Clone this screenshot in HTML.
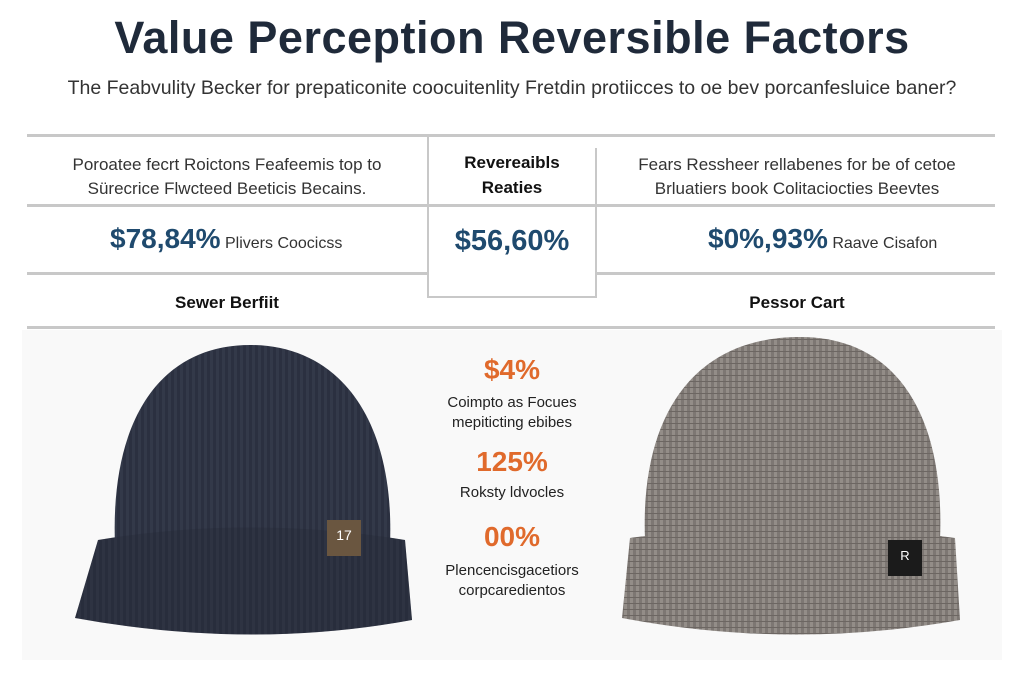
<!DOCTYPE html>
<html><head><meta charset="utf-8"><style>
body{margin:0;width:1024px;height:683px;background:#fff;font-family:"Liberation Sans",sans-serif;position:relative;overflow:hidden}
.t{position:absolute;white-space:nowrap}
.l{position:absolute;background:#c8c8c8}
</style></head><body>
<svg width="1024" height="683" style="position:absolute;left:0;top:0">
<defs>
<pattern id="kn" width="6" height="6" patternUnits="userSpaceOnUse"><rect width="6" height="6" fill="#2b3040"/><rect width="3" height="6" fill="#333949"/></pattern>
<pattern id="kg" width="6" height="6" patternUnits="userSpaceOnUse"><rect width="6" height="6" fill="#7d7773"/><rect width="3" height="6" fill="#938d88"/><rect y="3" width="6" height="1" fill="#6c6662"/></pattern>
</defs>
<rect x="22" y="330" width="980" height="330" fill="#f9f9f9"/>
<path d="M115 545 C110 420 160 345 250 345 C340 345 395 420 390 545 Z" fill="url(#kn)"/>
<path d="M98 540 Q250 515 405 540 L412 620 Q250 650 75 618 Z" fill="url(#kn)"/>
<path d="M98 540 Q250 515 405 540 L412 620 Q250 650 75 618 Z" fill="#1e2230" opacity=".25"/>
<rect x="327" y="520" width="34" height="36" fill="#6a5640"/>
<text x="344" y="540" fill="#fff" font-size="14" text-anchor="middle" font-family="Liberation Sans">17</text>
<path d="M645 540 C640 420 690 337 800 337 C900 337 945 420 940 540 Z" fill="url(#kg)"/>
<path d="M630 538 Q790 515 955 538 L960 620 Q790 650 622 618 Z" fill="url(#kg)"/>
<rect x="888" y="540" width="34" height="36" fill="#1b1b1b"/>
<text x="905" y="560" fill="#fff" font-size="13" text-anchor="middle" font-family="Liberation Sans">R</text>
</svg>
<div class="t" style="left:0;width:1024px;top:12px;text-align:center;font-size:45px;font-weight:bold;color:#1f2a3a;letter-spacing:0.5px">Value Perception Reversible Factors</div>
<div class="t" style="left:0;width:1024px;top:77px;text-align:center;font-size:19.5px;color:#333">The Feabvulity Becker for prepaticonite coocuitenlity Fretdin protiicces to oe bev porcanfesluice baner?</div>
<div class="l" style="left:27px;top:134px;width:968px;height:3px"></div>
<div class="l" style="left:27px;top:204px;width:968px;height:3px"></div>
<div class="l" style="left:27px;top:272px;width:400px;height:3px"></div>
<div class="l" style="left:597px;top:272px;width:398px;height:3px"></div>
<div class="l" style="left:27px;top:326px;width:968px;height:3px"></div>
<div class="l" style="left:427px;top:135px;width:2px;height:163px"></div>
<div class="l" style="left:595px;top:148px;width:2px;height:150px"></div>
<div class="l" style="left:427px;top:296px;width:170px;height:2px"></div>
<div class="t" style="left:27px;width:400px;top:153px;text-align:center;font-size:17px;line-height:24px;color:#333">Poroatee fecrt Roictons Feafeemis top to<br>Sürecrice Flwcteed Beeticis Becains.</div>
<div class="t" style="left:429px;width:166px;top:150px;text-align:center;font-size:17px;line-height:25px;font-weight:bold;color:#111">Revereaibls<br>Reaties</div>
<div class="t" style="left:597px;width:400px;top:153px;text-align:center;font-size:17px;line-height:24px;color:#333">Fears Ressheer rellabenes for be of cetoe<br>Brluatiers book Colitaciocties Beevtes</div>
<div class="t" style="left:110px;top:223px;font-size:28px;font-weight:bold;color:#1f4a6e">$78,84%<span style="font-size:16px;font-weight:normal;color:#333"> Plivers Coocicss</span></div>
<div class="t" style="left:429px;width:166px;top:225px;text-align:center;font-size:29px;font-weight:bold;color:#1f4a6e">$56,60%</div>
<div class="t" style="left:708px;top:223px;font-size:28px;font-weight:bold;color:#1f4a6e">$0%,93%<span style="font-size:16px;font-weight:normal;color:#333"> Raave Cisafon</span></div>
<div class="t" style="left:27px;width:400px;top:293px;text-align:center;font-size:17px;font-weight:bold;color:#111">Sewer Berfiit</div>
<div class="t" style="left:597px;width:400px;top:293px;text-align:center;font-size:17px;font-weight:bold;color:#111">Pessor Cart</div>
<div class="t" style="left:412px;width:200px;top:354px;text-align:center;font-size:28px;font-weight:bold;color:#e06a2c">$4%</div>
<div class="t" style="left:412px;width:200px;top:393px;text-align:center;font-size:15px;line-height:20px;color:#222">Coimpto as Focues<br>mepiticting ebibes</div>
<div class="t" style="left:412px;width:200px;top:446px;text-align:center;font-size:28px;font-weight:bold;color:#e06a2c">125%</div>
<div class="t" style="left:412px;width:200px;top:484px;text-align:center;font-size:15px;color:#222">Roksty ldvocles</div>
<div class="t" style="left:412px;width:200px;top:521px;text-align:center;font-size:28px;font-weight:bold;color:#e06a2c">00%</div>
<div class="t" style="left:412px;width:200px;top:561px;text-align:center;font-size:15px;line-height:20px;color:#222">Plencencisgacetiors<br>corpcaredientos</div>
</body></html>
